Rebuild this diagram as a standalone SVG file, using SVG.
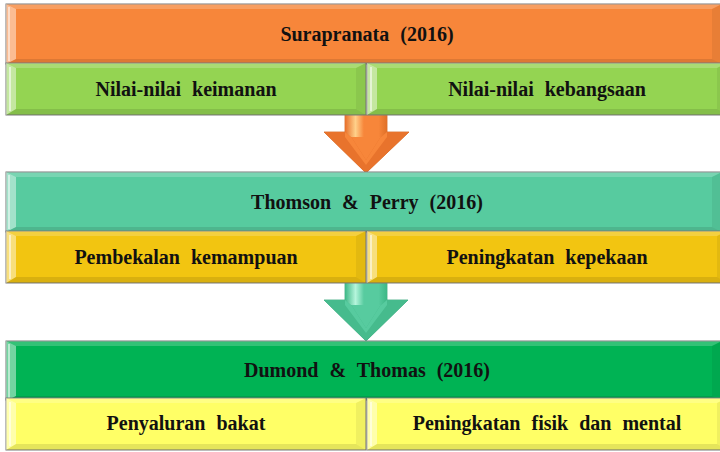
<svg xmlns="http://www.w3.org/2000/svg" xmlns:xlink="http://www.w3.org/1999/xlink" width="720" height="452" viewBox="0 0 720 452">
  <style>
    .box { stroke: #7a7a7a; stroke-width: 1; }
    .lbl { font-family: "Liberation Serif", "Times New Roman", serif; font-weight: bold; font-size: 20px; fill: #111; text-anchor: middle; word-spacing: 6px; }
  </style>
  <defs>
    <!-- bevel overlay for a 716x60 header bar -->
    <g id="bevelHead">
      <polygon points="0,0 716,0 706,5 10,5" fill="#fff" opacity="0.2"/>
      <polygon points="0,0 10,5 10,55 0,60" fill="#fff" opacity="0.45"/>
      <polygon points="716,0 716,60 706,55 706,5" fill="#000" opacity="0.06"/>
      <polygon points="0,60 10,55 706,55 716,60" fill="#000" opacity="0.1"/>
      <line x1="3" y1="3" x2="3" y2="57" stroke="#fff" stroke-width="2" opacity="0.5"/>
    </g>
    <!-- bevel overlay for a 360x52 sub box -->
    <g id="bevelSub">
      <polygon points="0,0 360,0 350,5 10,5" fill="#fff" opacity="0.2"/>
      <polygon points="0,0 10,5 10,46 0,52" fill="#fff" opacity="0.45"/>
      <polygon points="360,0 360,52 350,46 350,5" fill="#000" opacity="0.06"/>
      <polygon points="0,52 10,46 350,46 360,52" fill="#000" opacity="0.1"/>
      <line x1="4" y1="4" x2="4" y2="48" stroke="#fff" stroke-width="2" opacity="0.55"/>
    </g>
    <linearGradient id="shaftOrange" x1="0" y1="0" x2="1" y2="0">
      <stop offset="0" stop-color="#e8702a"/>
      <stop offset="0.25" stop-color="#ffd08a"/>
      <stop offset="0.45" stop-color="#f7863a"/>
      <stop offset="0.8" stop-color="#f7863a"/>
      <stop offset="1" stop-color="#e07028"/>
    </linearGradient>
    <linearGradient id="shaftTeal" x1="0" y1="0" x2="1" y2="0">
      <stop offset="0" stop-color="#3db886"/>
      <stop offset="0.25" stop-color="#b5f5dc"/>
      <stop offset="0.45" stop-color="#57cb9f"/>
      <stop offset="0.8" stop-color="#57cb9f"/>
      <stop offset="1" stop-color="#3db886"/>
    </linearGradient>
  </defs>

  <g id="connectors">
    <g id="arrow-1">
      <polygon points="345,115 387,115 387,132 409,132 366,173 324,132 345,132" fill="#f7863a" stroke="#d2651f" stroke-width="0.8"/>
      <rect x="345" y="115" width="42" height="22" fill="url(#shaftOrange)"/>
      <polygon points="324,132 345,132 352,138 366,160 380,138 387,132 409,132 366,173" fill="#e8732c"/>
      <polygon points="345,132 352,138 366,160 380,138 387,132 387,137 366,165 345,137" fill="#f7863a"/>
    </g>
    <g id="arrow-2">
      <polygon points="345,283 387,283 387,300 408,300 366,341 324,300 345,300" fill="#57cb9f" stroke="#39a77c" stroke-width="0.8"/>
      <rect x="345" y="283" width="42" height="22" fill="url(#shaftTeal)"/>
      <polygon points="324,300 345,300 352,306 366,328 380,306 387,300 408,300 366,341" fill="#46bb8d"/>
      <polygon points="345,300 352,306 366,328 380,306 387,300 387,305 366,333 345,305" fill="#57cb9f"/>
    </g>
  </g>

  <g id="head-surapranata">
    <rect class="box" x="6" y="4" width="716" height="60" fill="#f7863a"/>
    <use xlink:href="#bevelHead" x="6" y="4"/>
    <text class="lbl" x="367" y="41">Surapranata (2016)</text>
  </g>
  <g id="sub-keimanan">
    <rect class="box" x="6" y="63" width="360" height="52" fill="#94d452"/>
    <use xlink:href="#bevelSub" x="6" y="63"/>
    <text class="lbl" x="186" y="96">Nilai-nilai keimanan</text>
  </g>
  <g id="sub-kebangsaan">
    <rect class="box" x="367" y="63" width="360" height="52" fill="#94d452"/>
    <use xlink:href="#bevelSub" x="367" y="63"/>
    <text class="lbl" x="547" y="96">Nilai-nilai kebangsaan</text>
  </g>

  <g id="head-thomson">
    <rect class="box" x="6" y="172" width="716" height="60" fill="#57cb9f"/>
    <use xlink:href="#bevelHead" x="6" y="172"/>
    <text class="lbl" x="367" y="209">Thomson &amp; Perry (2016)</text>
  </g>
  <g id="sub-pembekalan">
    <rect class="box" x="6" y="231" width="360" height="52" fill="#f2c511"/>
    <use xlink:href="#bevelSub" x="6" y="231"/>
    <text class="lbl" x="186" y="264">Pembekalan kemampuan</text>
  </g>
  <g id="sub-kepekaan">
    <rect class="box" x="367" y="231" width="360" height="52" fill="#f2c511"/>
    <use xlink:href="#bevelSub" x="367" y="231"/>
    <text class="lbl" x="547" y="264">Peningkatan kepekaan</text>
  </g>

  <g id="head-dumond">
    <rect class="box" x="6" y="341" width="716" height="59" fill="#00b354"/>
    <use xlink:href="#bevelHead" x="6" y="341"/>
    <text class="lbl" x="367" y="377">Dumond &amp; Thomas (2016)</text>
  </g>
  <g id="sub-bakat">
    <rect class="box" x="6" y="398" width="360" height="52" fill="#ffff66"/>
    <use xlink:href="#bevelSub" x="6" y="398"/>
    <text class="lbl" x="186" y="430">Penyaluran bakat</text>
  </g>
  <g id="sub-fisik">
    <rect class="box" x="367" y="398" width="360" height="52" fill="#ffff66"/>
    <use xlink:href="#bevelSub" x="367" y="398"/>
    <text class="lbl" x="547" y="430">Peningkatan fisik dan mental</text>
  </g>
</svg>
